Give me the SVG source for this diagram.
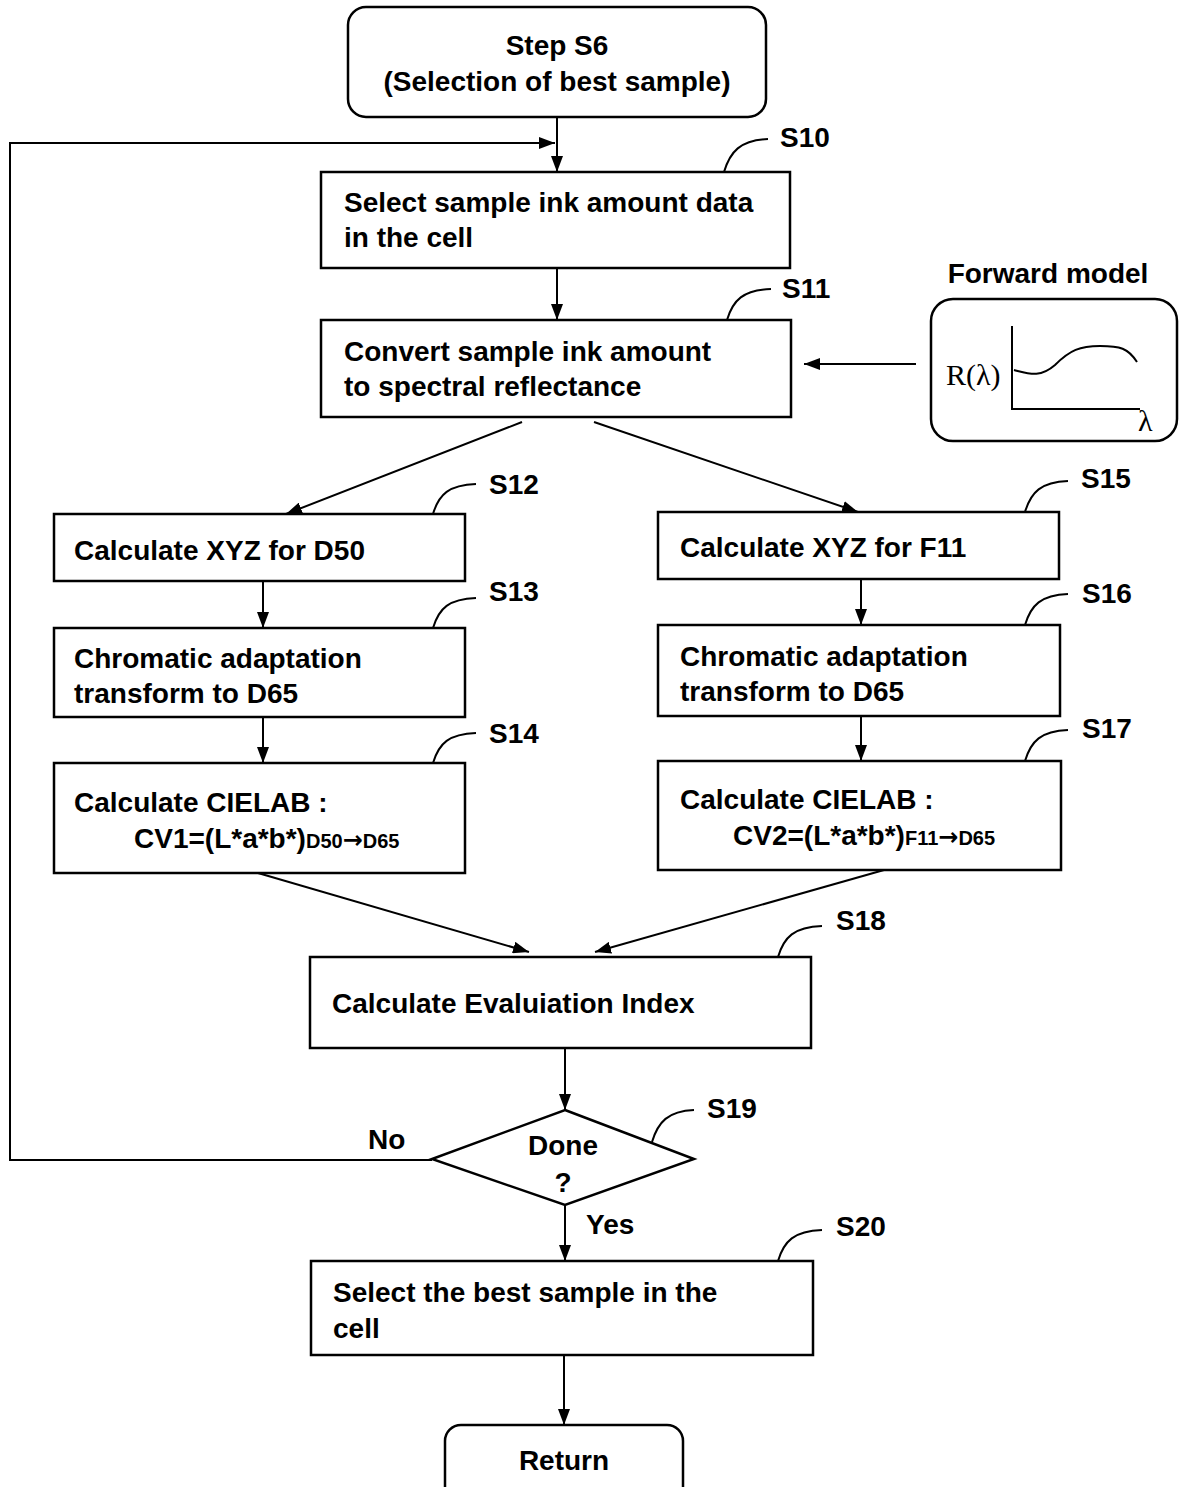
<svg xmlns="http://www.w3.org/2000/svg" width="1179" height="1487" viewBox="0 0 1179 1487">
<style>
.box{fill:#fff;stroke:#000;stroke-width:2.5}
.t{font-family:"Liberation Sans",Arial,sans-serif;font-weight:bold;font-size:28px;fill:#000}
.sub{font-size:20px}
.arr{font-family:"DejaVu Sans",sans-serif;font-size:24px}
.c{text-anchor:middle}
.ln{fill:none;stroke:#000;stroke-width:2}
.ld{fill:none;stroke:#000;stroke-width:2}
.serif{font-family:"Liberation Serif","DejaVu Serif",serif;font-size:30px;fill:#000}
</style>
<defs>
<marker id="ah" viewBox="0 0 16 12" refX="16" refY="6" markerWidth="16" markerHeight="12" markerUnits="userSpaceOnUse" orient="auto">
<path d="M0,0 L16,6 L0,12 Z" fill="#000"/>
</marker>
</defs>
<rect width="1179" height="1487" fill="#fff"/>

<g id="connectors">
<line class="ln" x1="557" y1="117" x2="557" y2="172" marker-end="url(#ah)"/>
<polyline class="ln" points="432,1160 10,1160 10,143 555,143" marker-end="url(#ah)"/>
<line class="ln" x1="557" y1="268" x2="557" y2="320" marker-end="url(#ah)"/>
<line class="ln" x1="916" y1="364" x2="804" y2="364" marker-end="url(#ah)"/>
<line class="ln" x1="522" y1="422" x2="286" y2="514" marker-end="url(#ah)"/>
<line class="ln" x1="594" y1="422" x2="858" y2="512" marker-end="url(#ah)"/>
<line class="ln" x1="263" y1="581" x2="263" y2="628" marker-end="url(#ah)"/>
<line class="ln" x1="263" y1="717" x2="263" y2="763" marker-end="url(#ah)"/>
<line class="ln" x1="861" y1="579" x2="861" y2="625" marker-end="url(#ah)"/>
<line class="ln" x1="861" y1="716" x2="861" y2="761" marker-end="url(#ah)"/>
<line class="ln" x1="258" y1="873" x2="529" y2="952" marker-end="url(#ah)"/>
<line class="ln" x1="884" y1="870" x2="595" y2="952" marker-end="url(#ah)"/>
<line class="ln" x1="565" y1="1048" x2="565" y2="1110" marker-end="url(#ah)"/>
<line class="ln" x1="565" y1="1205" x2="565" y2="1261" marker-end="url(#ah)"/>
<line class="ln" x1="564" y1="1355" x2="564" y2="1425" marker-end="url(#ah)"/>
<text class="t" x="368" y="1149">No</text>
<text class="t" x="586" y="1234">Yes</text>
</g>

<g id="start">
<rect class="box" x="348" y="7" width="418" height="110" rx="18"/>
<text class="t c" x="557" y="55">Step S6</text>
<text class="t c" x="557" y="91">(Selection of best sample)</text>
</g>

<g id="s10">
<rect class="box" x="321" y="172" width="469" height="96"/>
<text class="t" x="344" y="212">Select sample ink amount data</text>
<text class="t" x="344" y="247">in the cell</text>
<path class="ld" d="M724,172 C730,152 740,140 768,139"/>
<text class="t" x="780" y="147">S10</text>
</g>

<g id="s11">
<rect class="box" x="321" y="320" width="470" height="97"/>
<text class="t" x="344" y="361">Convert sample ink amount</text>
<text class="t" x="344" y="396">to spectral reflectance</text>
<path class="ld" d="M727,320 C733,300 743,290 771,289"/>
<text class="t" x="782" y="298">S11</text>
</g>

<g id="forward-model">
<text class="t c" x="1048" y="283">Forward model</text>
<rect class="box" x="931" y="299" width="246" height="142" rx="22"/>
<polyline class="ln" points="1012,326 1012,409 1140,409"/>
<path class="ln" d="M1014,370 C1030,374 1040,378 1055,365 C1070,350 1080,346 1100,346 C1120,346 1128,348 1137,362"/>
<text class="serif" x="946" y="385">R(λ)</text>
<text class="serif" x="1138" y="431">λ</text>
</g>

<g id="s12">
<rect class="box" x="54" y="514" width="411" height="67"/>
<text class="t" x="74" y="560">Calculate XYZ for D50</text>
<path class="ld" d="M433,514 C439,494 449,485 476,484"/>
<text class="t" x="489" y="494">S12</text>
</g>

<g id="s13">
<rect class="box" x="54" y="628" width="411" height="89"/>
<text class="t" x="74" y="668">Chromatic adaptation</text>
<text class="t" x="74" y="703">transform to D65</text>
<path class="ld" d="M433,628 C439,608 449,599 476,598"/>
<text class="t" x="489" y="601">S13</text>
</g>

<g id="s14">
<rect class="box" x="54" y="763" width="411" height="110"/>
<text class="t" x="74" y="812">Calculate CIELAB :</text>
<text class="t" x="134" y="848">CV1=(L*a*b*)<tspan class="sub">D50</tspan><tspan class="arr">→</tspan><tspan class="sub">D65</tspan></text>
<path class="ld" d="M433,763 C439,743 449,734 476,733"/>
<text class="t" x="489" y="743">S14</text>
</g>

<g id="s15">
<rect class="box" x="658" y="512" width="401" height="67"/>
<text class="t" x="680" y="557">Calculate XYZ for F11</text>
<path class="ld" d="M1025,512 C1031,492 1041,482 1068,481"/>
<text class="t" x="1081" y="488">S15</text>
</g>

<g id="s16">
<rect class="box" x="658" y="625" width="402" height="91"/>
<text class="t" x="680" y="666">Chromatic adaptation</text>
<text class="t" x="680" y="701">transform to D65</text>
<path class="ld" d="M1025,625 C1031,605 1041,595 1068,594"/>
<text class="t" x="1082" y="603">S16</text>
</g>

<g id="s17">
<rect class="box" x="658" y="761" width="403" height="109"/>
<text class="t" x="680" y="809">Calculate CIELAB :</text>
<text class="t" x="733" y="845">CV2=(L*a*b*)<tspan class="sub">F11</tspan><tspan class="arr">→</tspan><tspan class="sub">D65</tspan></text>
<path class="ld" d="M1025,761 C1031,741 1041,731 1068,730"/>
<text class="t" x="1082" y="738">S17</text>
</g>

<g id="s18">
<rect class="box" x="310" y="957" width="501" height="91"/>
<text class="t" x="332" y="1013">Calculate Evaluiation Index</text>
<path class="ld" d="M778,957 C784,937 794,927 822,926"/>
<text class="t" x="836" y="930">S18</text>
</g>

<g id="s19">
<polygon class="box" points="565,1110 694,1159 565,1205 432,1159"/>
<text class="t c" x="563" y="1155">Done</text>
<text class="t c" x="563" y="1192">?</text>
<path class="ld" d="M652,1142 C658,1122 668,1111 694,1110"/>
<text class="t" x="707" y="1118">S19</text>
</g>

<g id="s20">
<rect class="box" x="311" y="1261" width="502" height="94"/>
<text class="t" x="333" y="1302">Select the best sample in the</text>
<text class="t" x="333" y="1338">cell</text>
<path class="ld" d="M778,1261 C784,1241 794,1231 822,1230"/>
<text class="t" x="836" y="1236">S20</text>
</g>

<g id="return">
<rect class="box" x="445" y="1425" width="238" height="80" rx="16"/>
<text class="t c" x="564" y="1470">Return</text>
</g>
</svg>
